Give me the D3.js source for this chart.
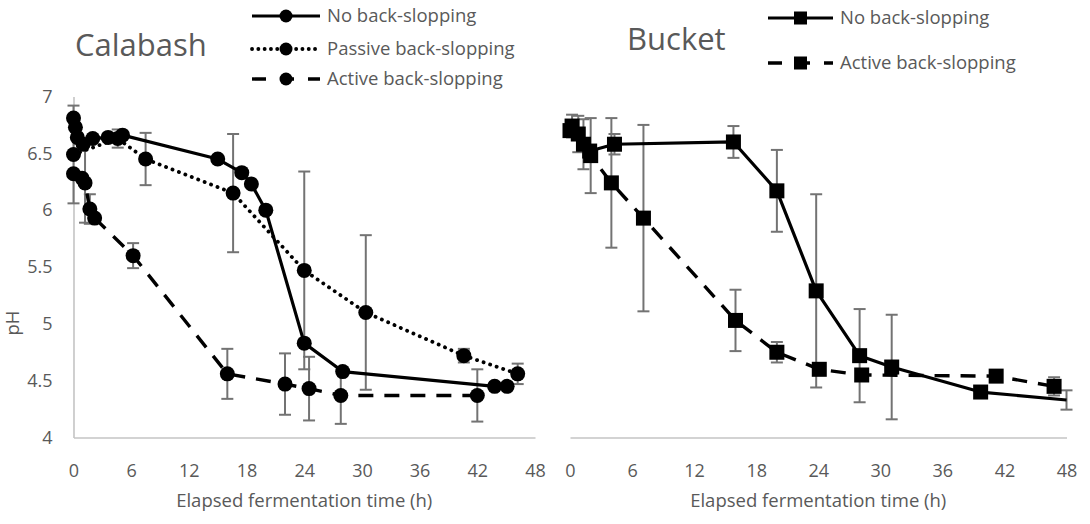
<!DOCTYPE html>
<html>
<head>
<meta charset="utf-8">
<script src="https://cdn.jsdelivr.net/npm/d3@7"></script>
<style>
  html, body { margin: 0; padding: 0; background: #fff; }
  svg { display: block; font-family: "Open Sans", sans-serif; }
</style>
</head>
<body>
<svg id="chart" width="1090" height="524"></svg>
<script>
// Axis ticks
const xTicks = [0, 6, 12, 18, 24, 30, 36, 42, 48];
const yTicks = [4, 4.5, 5, 5.5, 6, 6.5, 7];

// Calabash — no back-slopping
const calNoTime = [0, 0.2, 0.4, 1, 2, 3.6, 5.1, 15, 17.5, 18.5, 20, 24, 28, 43.8, 45.1];
const calNoPH   = [6.81, 6.73, 6.64, 6.58, 6.63, 6.64, 6.66, 6.45, 6.33, 6.23, 6.00, 4.83, 4.58, 4.45, 4.45];
const calNoErr  = [0, 0, 0, 0, 0, 0, 0, 0, 0, 0, 0, 0, 0, 0, 0];

// Calabash — passive back-slopping
const calPassTime = [0, 4.6, 7.5, 16.6, 24, 30.4, 40.6, 46.2];
const calPassPH   = [6.49, 6.63, 6.45, 6.15, 5.47, 5.10, 4.72, 4.56];
const calPassErr  = [0.43, 0.08, 0.23, 0.52, 0.87, 0.68, 0.06, 0.09];

// Calabash — active back-slopping
const calActTime = [0, 0.9, 1.2, 1.7, 2.2, 6.2, 16, 22, 24.5, 27.8, 42];
const calActPH   = [6.32, 6.28, 6.24, 6.01, 5.93, 5.60, 4.56, 4.47, 4.43, 4.37, 4.37];
const calActErr  = [0, 0, 0.35, 0.13, 0, 0.11, 0.22, 0.27, 0.28, 0.25, 0.23];

// Bucket — no back-slopping
const bucNoTime = [0, 0.8, 1.9, 4.3, 15.8, 20, 23.8, 28, 31.1, 39.7, 48];
const bucNoPH   = [6.70, 6.67, 6.52, 6.58, 6.60, 6.17, 5.29, 4.72, 4.62, 4.40, 4.33];
const bucNoErr  = [0, 0.16, 0, 0.09, 0.14, 0.36, 0.85, 0.41, 0.46, 0.05, 0.085];

// Bucket — active back-slopping
const bucActTime = [0.2, 1.3, 2.0, 4.0, 7.1, 16, 20, 24.1, 28.2, 41.2, 46.8];
const bucActPH   = [6.74, 6.58, 6.48, 6.24, 5.93, 5.03, 4.75, 4.60, 4.55, 4.54, 4.45];
const bucActErr  = [0.1, 0.22, 0.33, 0.57, 0.82, 0.27, 0.09, 0, 0, 0.03, 0.08];

const seriesNames = ["No back-slopping", "Passive back-slopping", "Active back-slopping"];

const TEXT = "#595959";
const ERR = "#737373";
const AXIS = "#c4c4c4";

const styles = {
  solid:  { dash: null,      cap: "butt",  width: 3.2, legendDash: null },
  dotted: { dash: "0.1 6.8", cap: "round", width: 3.8, legendDash: "0.1 6.2" },
  dashed: { dash: "15 11",   cap: "butt",  width: 3.4, legendDash: "14 14" }
};

const svg = d3.select("#chart");
const y = d3.scaleLinear().domain([4, 7]).range([437.5, 96.5]);

function zip(t, v, e) { return t.map((d, i) => ({ t: d, v: v[i], e: e[i] })); }

function drawMarker(g, shape, cx, cy, size) {
  if (shape === "circle") {
    g.append("circle").attr("cx", cx).attr("cy", cy).attr("r", size / 2).attr("fill", "#000");
  } else {
    g.append("rect").attr("x", cx - size / 2).attr("y", cy - size / 2)
      .attr("width", size).attr("height", size).attr("fill", "#000");
  }
}

function drawPanel(cfg) {
  const x = d3.scaleLinear().domain([0, 48]).range(cfg.xRange);
  const g = svg.append("g");

  // x axis
  const xa = g.append("g").attr("transform", `translate(0,${y(4)})`)
    .call(d3.axisBottom(x).tickValues(xTicks).tickSize(0).tickSizeOuter(0).tickPadding(26.5).tickFormat(d => String(d)));
  xa.select(".domain").attr("stroke", AXIS).attr("stroke-width", 1.6);
  xa.selectAll("text").attr("fill", TEXT).style("font-size", "18px").style("font-family", "'Open Sans', sans-serif");

  // y axis (first panel only)
  if (cfg.yAxis) {
    const ya = g.append("g").attr("transform", `translate(${cfg.xRange[0]},0)`)
      .call(d3.axisLeft(y).tickValues(yTicks).tickSize(0).tickSizeOuter(0).tickPadding(21).tickFormat(d => String(d)));
    ya.select(".domain").attr("stroke", AXIS).attr("stroke-width", 1.6);
    ya.selectAll("text").attr("fill", TEXT).style("font-size", "18px").style("font-family", "'Open Sans', sans-serif");
  }

  // error bars
  const eg = g.append("g").attr("stroke", ERR).attr("stroke-width", 2).attr("fill", "none");
  cfg.series.forEach(s => {
    s.data.filter(d => d.e > 0).forEach(d => {
      const cx = x(d.t), y1 = y(d.v - d.e), y2 = y(d.v + d.e);
      eg.append("line").attr("x1", cx).attr("x2", cx).attr("y1", y1).attr("y2", y2);
      eg.append("line").attr("x1", cx - 6).attr("x2", cx + 6).attr("y1", y1).attr("y2", y1);
      eg.append("line").attr("x1", cx - 6).attr("x2", cx + 6).attr("y1", y2).attr("y2", y2);
    });
  });

  // lines
  const line = d3.line().x(d => x(d.t)).y(d => y(d.v));
  cfg.series.forEach(s => {
    const st = styles[s.style];
    g.append("path").datum(s.data).attr("d", line)
      .attr("fill", "none").attr("stroke", "#000")
      .attr("stroke-width", st.width).attr("stroke-linecap", st.cap)
      .attr("stroke-linejoin", "round")
      .attr("stroke-dasharray", st.dash);
  });

  // markers (points on the right edge of the axis are not marked)
  const mg = g.append("g");
  cfg.series.forEach(s => {
    s.data.filter(d => d.t < 48).forEach(d => drawMarker(mg, cfg.shape, x(d.t), y(d.v), 15));
  });

  // panel title
  g.append("text").attr("x", cfg.titleX).attr("y", cfg.titleY).text(cfg.title)
    .attr("fill", TEXT).style("font-size", "31px");

  // x axis title
  g.append("text").attr("x", (cfg.xRange[0] + cfg.xRange[1]) / 2 + cfg.xTitleShift).attr("y", 507)
    .attr("text-anchor", "middle").attr("fill", TEXT).style("font-size", "18.5px")
    .text("Elapsed fermentation time (h)");

  // legend
  const lg = g.append("g");
  cfg.series.forEach((s, i) => {
    const st = styles[s.style];
    const ly = cfg.legendY[i];
    const [l0, l1] = cfg.legendLine;
    lg.append("line").attr("x1", l0).attr("x2", l1).attr("y1", ly).attr("y2", ly)
      .attr("stroke", "#000").attr("stroke-width", st.width)
      .attr("stroke-linecap", st.cap).attr("stroke-dasharray", st.legendDash);
    drawMarker(lg, cfg.shape, (l0 + l1) / 2, ly, 13);
    lg.append("text").attr("x", cfg.legendTextX).attr("y", ly).attr("dy", "0.35em")
      .attr("fill", TEXT).style("font-size", "18.5px").text(s.name);
  });
}

drawPanel({
  title: "Calabash", titleX: 75, titleY: 56,
  xRange: [73.5, 535], yAxis: true, shape: "circle", xTitleShift: 0,
  legendY: [16, 49, 79], legendLine: [252, 320], legendTextX: 327,
  series: [
    { name: seriesNames[0], style: "solid",  data: zip(calNoTime, calNoPH, calNoErr) },
    { name: seriesNames[1], style: "dotted", data: zip(calPassTime, calPassPH, calPassErr) },
    { name: seriesNames[2], style: "dashed", data: zip(calActTime, calActPH, calActErr) }
  ]
});

drawPanel({
  title: "Bucket", titleX: 627, titleY: 50,
  xRange: [570, 1066.5], yAxis: false, shape: "square", xTitleShift: 0,
  legendY: [18, 63], legendLine: [768, 833], legendTextX: 840,
  series: [
    { name: seriesNames[0], style: "solid",  data: zip(bucNoTime, bucNoPH, bucNoErr) },
    { name: seriesNames[2], style: "dashed", data: zip(bucActTime, bucActPH, bucActErr) }
  ]
});

// shared y axis title
svg.append("text").attr("transform", "translate(19,323) rotate(-90)")
  .attr("text-anchor", "middle").attr("fill", TEXT).style("font-size", "18.5px").text("pH");
</script>
</body>
</html>
